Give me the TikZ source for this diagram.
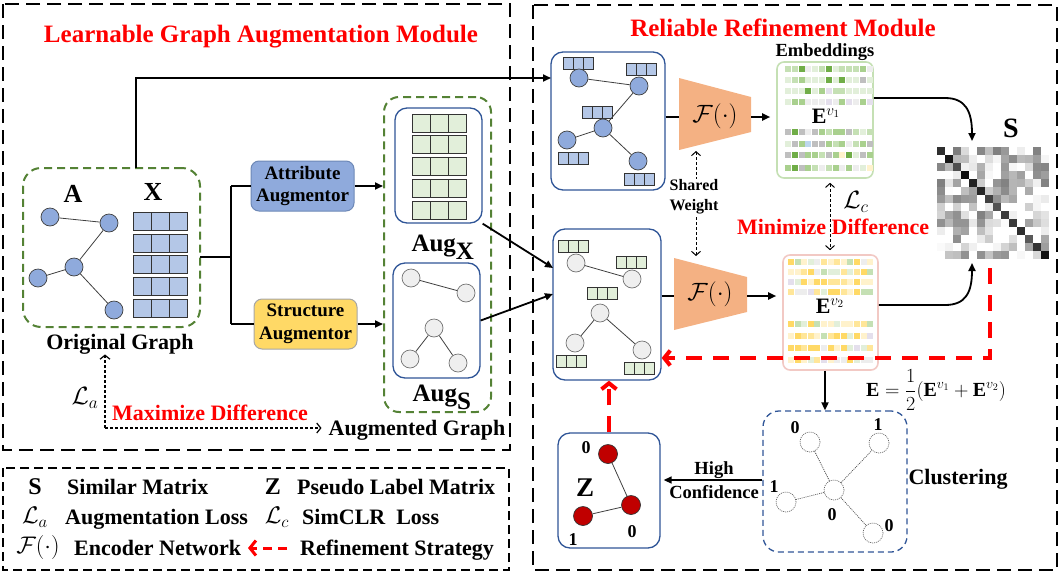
\RequirePackage{fix-cm}
\documentclass[tikz,border=0pt]{standalone}
\usepackage{fontspec}
\setmainfont{Liberation Serif}
\usetikzlibrary{arrows.meta,calc}
\definecolor{mblue}{HTML}{8FAADC}
\definecolor{lblue}{HTML}{B4C7E7}
\definecolor{blueline}{HTML}{2F5597}
\definecolor{lgreen}{HTML}{E2EFDA}
\definecolor{dgreen}{HTML}{548235}
\definecolor{orng}{HTML}{F4B183}
\definecolor{yel}{HTML}{FFD966}
\definecolor{gnode}{HTML}{EFEFEF}
\definecolor{rnode}{HTML}{C00000}
\definecolor{eg1}{HTML}{70AD47}
\definecolor{eg2}{HTML}{A9D08E}
\definecolor{eg3}{HTML}{C5E0B4}
\definecolor{eg4}{HTML}{E2EFDA}
\definecolor{egr}{HTML}{BFBFBF}
\definecolor{epu}{HTML}{E4DFEC}
\definecolor{ey1}{HTML}{FFD966}
\definecolor{ey2}{HTML}{FFE699}
\definecolor{ey3}{HTML}{FFF2CC}
\definecolor{ebl}{HTML}{BDD7EE}
\definecolor{elg}{HTML}{EDEDED}
\definecolor{embpink}{HTML}{F2C9C4}
\tikzset{
  every node/.style={inner sep=0pt},
  bfs/.style={font=\bfseries\fontsize{#1}{#1}\selectfont, text height=0.66*#1pt, text depth=0pt},
  mth/.style={font=\fontsize{#1}{#1}\selectfont},
  ttl/.style={bfs=25, text=red},
  modbox/.style={line width=2.2pt, dash pattern=on 14pt off 7pt},
  legbox/.style={line width=2pt, dash pattern=on 9pt off 5pt},
  gdash/.style={draw=dgreen, line width=2pt, dash pattern=on 8pt off 5pt, rounded corners=18pt},
  bbox/.style={draw=blueline, line width=1.3pt, rounded corners=12pt},
  embbox/.style={line width=1.6pt, rounded corners=7pt},
  augbox/.style={rounded corners=8pt, minimum width=103pt, minimum height=50pt, align=center,
                 font=\bfseries\fontsize{19}{22.5}\selectfont, line width=1pt},
  bnode/.style={circle, draw=black!75, fill=mblue, line width=0.7pt, minimum size=18pt},
  gnd/.style={circle, draw=black!55, fill=gnode, line width=0.7pt, minimum size=18pt},
  rnd/.style={circle, draw=black!80, fill=rnode, line width=0.7pt, minimum size=19pt},
  cnode/.style={circle, draw=black!60, dash pattern=on 1pt off 1pt, line width=0.7pt, minimum size=20pt, fill=white},
  edge/.style={draw=black!75, line width=0.8pt},
  cedge/.style={draw=black!70, dash pattern=on 1pt off 1pt, line width=0.7pt},
  cellb/.style={draw=black!80, fill=lblue, line width=1pt},
  cellg/.style={draw=black!80, fill=lgreen, line width=1pt},
  line/.style={line width=1.8pt},
  arr/.style={line width=1.8pt, -{Triangle[length=8pt,width=7pt]}},
  dotarr/.style={line width=1.2pt, dash pattern=on 3pt off 2pt, -{Straight Barb[length=4pt,width=10pt]}},
  dashdbl/.style={line width=1pt, dash pattern=on 3pt off 2pt,
                  {Straight Barb[length=4pt,width=9pt]}-{Straight Barb[length=4pt,width=9pt]}},
  redarr/.style={draw=red, line width=4pt, dash pattern=on 16pt off 11pt, -{Straight Barb[length=6pt,width=15pt]}},
}
\pgfmathsetseed{7}
\pgfmathdeclarerandomlist{embA}{{eg1}{eg2}{eg3}{eg3}{eg4}{eg4}{egr}{epu}{eg2}{eg4}{elg}}
\pgfmathdeclarerandomlist{embAA}{{eg1}{eg2}{eg3}{eg4}{egr}{ey3}{ebl}{eg2}{elg}{egr}{eg3}}
\pgfmathdeclarerandomlist{embB}{{ey1}{ey1}{ey2}{ey3}{ey3}{eg4}{eg3}{elg}{ey2}{epu}{ey1}}
\begin{document}
\begin{tikzpicture}[x=1pt,y=-1pt]
\useasboundingbox (0,0) rectangle (1062,576);

% ---------- module frames ----------
\draw[modbox] (3,4) rectangle (510,450);
\draw[modbox] (533,5) rectangle (1057,570);
\draw[legbox] (3,468) rectangle (509,570);
\node[ttl] (ttlA) at (261,34) {Learnable Graph Augmentation Module};
\node[ttl] (ttlB) at (783,28) {Reliable Refinement Module};

% ---------- original graph ----------
\node[gdash, minimum width=177pt, minimum height=159pt] (og) at (111.5,247.5) {};
\node[bfs=26] (lA) at (73,194) {A};
\node[bfs=26] (lX) at (153,192) {X};
\foreach \n/\x/\y in {o1/50/217,o2/109/223,o3/74/267,o4/38/278,o5/114/310}
  \node[bnode] (\n) at (\x,\y) {};
\draw[edge] (o1)--(o2) (o2)--(o3) (o3)--(o4) (o3)--(o5);
\foreach \y in {212,234,255,277,299}
  \foreach \k in {0,1,2}
    \draw[cellb] ({133+18*\k},\y) rectangle ++(18,18);
\node[bfs=22] (ogl) at (120,342) {Original Graph};

% ---------- augmentors ----------
\node[augbox, fill=mblue, draw=blueline!70] (aa) at (302.5,186) {Attribute\\Augmentor};
\node[augbox, fill=yel, draw=black!35] (sa) at (305.5,324) {Structure\\Augmentor};
\node[gdash, minimum width=107pt, minimum height=315pt, rounded corners=15pt] (augb) at (437.5,254.5) {};
\coordinate (ogr) at (200,257);
\coordinate (fork) at (231,257);
\draw[line] (ogr) -- (fork);
\draw[line] (fork |- aa) -- (fork |- sa);
\draw[line] (fork |- aa) -- (aa.west);
\draw[line] (fork |- sa) -- (sa.west);
\draw[arr] (aa.east) -- (aa.east -| augb.west);
\draw[arr] (sa.east) -- (sa.east -| augb.west);

% AugX
\node[bbox, minimum width=87pt, minimum height=115pt] (augx) at (438.5,165.5) {};
\foreach \y in {114,135,157,179,201}
  \foreach \k in {0,1,2}
    \draw[cellg] ({412+18*\k},\y) rectangle ++(18,18);
\node[bfs=25] (lax) at (443,243) {Aug$_{\textbf{X}}$};
% AugS
\node[bbox, minimum width=87pt, minimum height=115pt] (augs) at (436.5,320.5) {};
\foreach \n/\x/\y in {s1/411/278,s2/466/293,s3/434/328,s4/410/359,s5/458/363}
  \node[gnd] (\n) at (\x,\y) {};
\draw[edge] (s1)--(s2) (s3)--(s4) (s3)--(s5);
\node[bfs=25] (las) at (442,393) {Aug$_{\textbf{S}}$};

% L_a and maximize difference
\node[mth=25] (La) at (85,398) {$\mathcal{L}_a$};
\node[bfs=22] (augg) at (417,428) {Augmented Graph};
\node[bfs=22, text=red] (maxd) at (210,413) {Maximize Difference};
\coordinate (lacorner) at (105,428);
\draw[dotarr, shorten >=5pt] (lacorner) -- (lacorner |- ogl.south);
\draw[dotarr, shorten >=7pt] (lacorner) -- (augg.west);

% ---------- view 1 ----------
\node[bbox, minimum width=114pt, minimum height=138pt] (g1box) at (608,121) {};
\coordinate (ogtop) at (136,168);
\coordinate (g1in) at (551,78);
\draw[arr] (ogtop) |- (g1in);
\foreach \x/\y in {563/57,626/63,582/106,558/152,624/173}
  \foreach \k in {0,1,2}
    \draw[cellb, line width=0.8pt] ({\x+10*\k},\y) rectangle ++(10,12);
\foreach \n/\x/\y in {r1/579/78,r2/639/86,r3/603/128,r4/567/140,r5/638/161}
  \node[bnode] (\n) at (\x,\y) {};
\draw[edge] (r1)--(r2) (r2)--(r3) (r3)--(r4) (r3)--(r5);

\fill[orng] (679,78) -- (751,97) -- (751,132) -- (679,150) -- cycle;
\node[mth=25] (F1) at (715,116) {$\mathcal{F}(\cdot)$};
\coordinate (t1l) at (679,117);
\coordinate (t1r) at (751,117);
\draw[line] (g1box.east |- t1l) -- (t1l);

\node[embbox, draw=eg3, minimum width=96pt, minimum height=116pt] (emb1) at (825,120) {};
\foreach \yy in {69,80,91,102}
  \foreach \k in {0,...,12}{
    \pgfmathrandomitem{\cc}{embA}
    \fill[fill=\cc] ({785+6.8*\k},{\yy-3}) rectangle ++(6,6);}
\foreach \yy in {132,144,155,168}
  \foreach \k in {0,...,12}{
    \pgfmathrandomitem{\cc}{embAA}
    \fill[fill=\cc] ({785+6.8*\k},{\yy-3}) rectangle ++(6,6);}
\node[mth=22] (E1) at (826,116) {$\mathbf{E}^{v_1}$};
\node[bfs=18.5] (embl) at (825,50) {Embeddings};
\draw[arr, shorten >=6pt] (t1r) -- (t1r -| emb1.west);

% ---------- view 2 ----------
\node[bbox, minimum width=108pt, minimum height=151pt] (g2box) at (607,304.5) {};
\coordinate (g2a) at (553,268);
\coordinate (g2b) at (553,294);
\draw[arr] (augx.south east) -- (g2a);
\draw[arr] (augs.east) -- (g2b);
\foreach \x/\y in {558/240,616/256,587/287,556/355,624/362}
  \foreach \k in {0,1,2}
    \draw[cellg, line width=0.8pt] ({\x+10*\k},\y) rectangle ++(10,12);
\foreach \n/\x/\y in {q1/576/263,q2/632/279,q3/600/313,q4/575/343,q5/642/350}
  \node[gnd] (\n) at (\x,\y) {};
\draw[edge] (q1)--(q2) (q3)--(q4) (q3)--(q5);

\fill[orng] (674,258) -- (747,277) -- (747,312) -- (674,330) -- cycle;
\node[mth=25] (F2) at (710,294) {$\mathcal{F}(\cdot)$};
\coordinate (t2l) at (674,296);
\coordinate (t2r) at (747,296);
\draw[line] (g2box.east |- t2l) -- (t2l);

\node[embbox, draw=embpink, minimum width=95pt, minimum height=115pt] (emb2) at (830.5,312.5) {};
\foreach \yy in {262,272,282,292,324,336,348,360}
  \foreach \k in {0,...,12}{
    \pgfmathrandomitem{\cc}{embB}
    \fill[fill=\cc] ({788+6.6*\k},{\yy-3}) rectangle ++(6,6);}
\node[mth=22] (E2) at (830,306) {$\mathbf{E}^{v_2}$};
\draw[arr, shorten >=6pt] (t2r) -- (t2r -| emb2.west);

% shared weight
\coordinate (sw1) at (696,151);
\coordinate (sw2) at (696,256);
\draw[dashdbl] (sw1) -- (sw2);
\node[fill=white, inner sep=1pt, align=center, font=\bfseries\fontsize{16}{20}\selectfont] (sw) at (694,197) {Shared\\Weight};

% contrastive loss
\coordinate (lcx) at (830,0);
\draw[dashdbl, shorten <=4pt, shorten >=4pt] (emb1.south -| lcx) -- (emb2.north -| lcx);
\node[mth=25] (Lc) at (856,202) {$\mathcal{L}_c$};
\node[bfs=22, text=red] (mind) at (833,227) {Minimize Difference};

% ---------- similarity matrix ----------
\node[minimum width=112pt, minimum height=112pt] (Smat) at (993,203) {};
\foreach \i in {0,...,13}
  \foreach \j in {0,...,13}{
    \pgfmathtruncatemacro{\v}{(\i==\j) ? (65+30*rnd) : max(0,75*rnd-22)}
    \fill[black!\v] ({937+8*\j},{147+8*\i}) rectangle ++(8,8);}
\node[bfs=28] (Slab) at (1011,128) {S};
\coordinate (y98) at (0,98);
\coordinate (y305) at (0,305);
\coordinate (sin1) at (972,141);
\coordinate (sin2) at (972,263);
\draw[arr] (emb1.east |- y98) -- (945,98) .. controls (966,98) and (972,112) .. (sin1);
\draw[arr] (emb2.east |- y305) -- (945,305) .. controls (966,305) and (972,292) .. (sin2);

% refinement (red)
\coordinate (rtop) at (990,268);
\coordinate (y358) at (0,358);
\draw[redarr] (rtop) |- (g2box.east |- y358);

% ---------- clustering ----------
\node[draw=blueline, line width=1.3pt, dash pattern=on 6pt off 4pt, rounded corners=16pt,
      minimum width=144pt, minimum height=141pt] (clus) at (835,481.5) {};
\coordinate (cx) at (825,0);
\draw[arr] (emb2.south -| cx) -- (clus.north -| cx);
\node[mth=20] (Eq) at (936,390) {$\mathbf{E}=\displaystyle\frac{1}{2}(\mathbf{E}^{v_1}+\mathbf{E}^{v_2})$};
\foreach \n/\x/\y in {c1/810/442,c2/879/443,c0/834/490,c3/786/502,c4/873/533}
  \node[cnode] (\n) at (\x,\y) {};
\draw[cedge] (c0)--(c1) (c0)--(c2) (c0)--(c3) (c0)--(c4);
\node[bfs=18] (cl1) at (795,428) {0};
\node[bfs=18] (cl2) at (878,425) {1};
\node[bfs=18] (cl3) at (774,487) {1};
\node[bfs=18] (cl4) at (832,515) {0};
\node[bfs=18] (cl5) at (889,526) {0};
\node[bfs=22] (clt) at (958,477) {Clustering};

% ---------- pseudo labels ----------
\node[bbox, minimum width=102pt, minimum height=115pt] (zbox) at (609,490.5) {};
\foreach \n/\x/\y in {z1/608/454,z2/631/505,z3/583/516}
  \node[rnd] (\n) at (\x,\y) {};
\draw[edge] (z1)--(z2) (z2)--(z3);
\node[bfs=18] (zl1) at (586,448) {0};
\node[bfs=18] (zl2) at (632,532) {0};
\node[bfs=18] (zl3) at (573,540) {1};
\node[bfs=27] (zlab) at (585,488) {Z};
\coordinate (y480) at (0,480);
\draw[arr, line width=1.5pt, shorten >=3pt] (clus.west |- y480) -- (zbox.east |- y480);
\node[bfs=18.5] (hi) at (714,468) {High};
\node[bfs=18.5] (conf) at (714,492) {Confidence};
\draw[redarr] (zbox.north) -- (zbox.north |- g2box.south);

% ---------- legend ----------
\node[bfs=24] (lgS) at (35,487) {S};
\node[bfs=22, anchor=west] (lgS2) at (67,487) {Similar Matrix};
\node[bfs=24] (lgZ) at (273,487) {Z};
\node[bfs=22, anchor=west] (lgZ2) at (297,487) {Pseudo Label Matrix};
\node[mth=24] (lgLa) at (35,517) {$\mathcal{L}_a$};
\node[bfs=22, anchor=west] (lgLa2) at (65,517) {Augmentation Loss};
\node[mth=24] (lgLc) at (277,517) {$\mathcal{L}_c$};
\node[bfs=22, anchor=west] (lgLc2) at (302,517) {SimCLR\ \ Loss};
\node[mth=24] (lgF) at (38,547) {$\mathcal{F}(\cdot)$};
\node[bfs=22, anchor=west] (lgF2) at (74,548) {Encoder Network};
\coordinate (lgr1) at (287,548);
\coordinate (lgr2) at (248,548);
\draw[redarr, line width=3pt, dash pattern=on 9pt off 6pt] (lgr1) -- (lgr2);
\node[bfs=22, anchor=west] (lgR) at (300,548) {Refinement Strategy};
\end{tikzpicture}
\end{document}
